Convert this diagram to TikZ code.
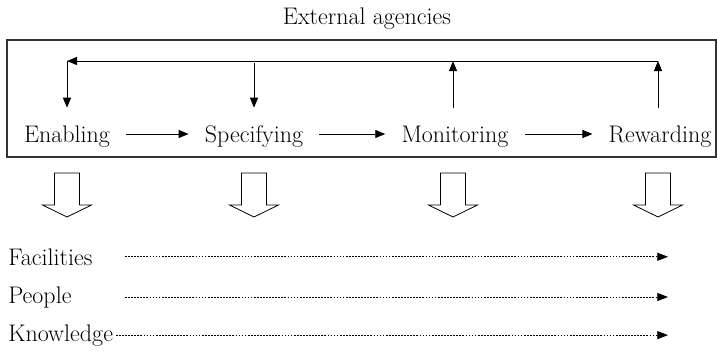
\documentclass[tikz,border=0pt]{standalone}
\usepackage{tikz}
\usetikzlibrary{arrows.meta}

\tikzset{
  stage/.style={anchor=base, text height=12pt, text depth=0pt, inner xsep=12pt, inner ysep=13.5pt},
  resource/.style={anchor=base west, inner sep=0pt},
  flow/.style={-{Triangle[length=7.5pt,width=6pt]}, line width=0.7pt},
  spread/.style={-{Triangle[length=8pt,width=6pt]}, line width=0.6pt, dash pattern=on 1.3pt off 1pt},
}

\begin{document}
\begin{tikzpicture}[x=0.75pt,y=-0.75pt,font=\fontsize{18}{21}\selectfont]
\useasboundingbox (0,0) rectangle (717,351);

    \node[anchor=base] (ext) at (367,24) {External agencies};
    \draw[black!80, line width=0.8pt] (7,40) rectangle (716,157);

    \node[stage] (en) at (67,142) {Enabling};
    \node[stage] (sp) at (254,142) {Specifying};
    \node[stage] (mo) at (455,142) {Monitoring};
    \node[stage] (re) at (660,142) {Rewarding};

    \coordinate (fbE) at (67,61);
    \coordinate (fbS) at (254,63);
    \coordinate (fbM) at (453,61);
    \coordinate (fbR) at (658,61);

    % feedback loop
    \draw[flow] (fbR) -- (fbE);
    \draw[flow] (fbE) -- (en.north);
    \draw[flow] (fbS) -- (sp.north);
    \draw[flow] (mo.north -| fbM) -- (fbM);
    \draw[flow] (re.north -| fbR) -- (fbR);

    % the sequence
    \draw[flow] (en.east) -- (sp.west);
    \draw[flow] (sp.east) -- (mo.west);
    \draw[flow] (mo.east) -- (re.west);

    % hollow block arrows
    \foreach \x in {67,254,453,658}
      \draw[line width=0.6pt] (\x-12.5,173) -- (\x+12.5,173) -- (\x+12.5,205) -- (\x+24.5,205)
        -- (\x,217) -- (\x-24.5,205) -- (\x-12.5,205) -- cycle;

    \node[resource] (fac) at (8,265) {Facilities};
    \node[resource] (peo) at (8,303) {People};
    \node[resource] (kno) at (8,341) {Knowledge};

    \coordinate (dotL) at (125,0);
    \coordinate (dotR) at (668,0);

    % resources carried through
    \draw[spread] (fac.east -| dotL) -- (fac.east -| dotR);
    \draw[spread] (peo.east -| dotL) -- (peo.east -| dotR);
    \draw[spread] ([xshift=2pt]kno.east) -- (kno.east -| dotR);

\end{tikzpicture}
\end{document}
